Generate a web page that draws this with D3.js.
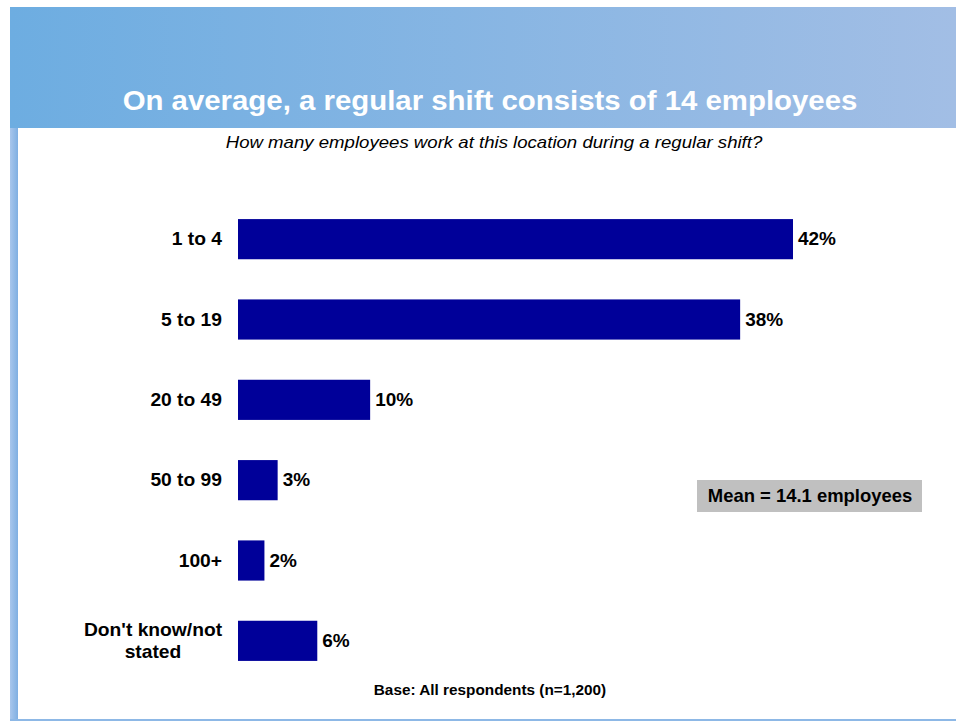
<!DOCTYPE html>
<html>
<head>
<meta charset="utf-8">
<script src="https://cdn.jsdelivr.net/npm/d3@7"></script>
<style>
  html, body { margin: 0; padding: 0; background: #fff; }
  svg { display: block; font-family: Arial, "Liberation Sans", sans-serif; }
</style>
</head>
<body>
<svg id="chart" width="956" height="721"></svg>
<script>
// Shift size distribution
const categories = ["1 to 4", "5 to 19", "20 to 49", "50 to 99", "100+", "Don't know/not stated"];
const values = [42, 38, 10, 3, 2, 6];
const titleText = "On average, a regular shift consists of 14 employees";
const subtitleText = "How many employees work at this location during a regular shift?";
const meanText = "Mean = 14.1 employees";
const baseText = "Base: All respondents (n=1,200)";

const svg = d3.select("#chart");
const defs = svg.append("defs");

const bannerGrad = defs.append("linearGradient").attr("id", "banner").attr("x1", 0).attr("x2", 1);
bannerGrad.append("stop").attr("offset", 0).attr("stop-color", "#6DADE1");
bannerGrad.append("stop").attr("offset", 1).attr("stop-color", "#A2BEE5");

const sideGrad = defs.append("linearGradient").attr("id", "side").attr("x1", 0).attr("x2", 1);
sideGrad.append("stop").attr("offset", 0).attr("stop-color", "#A8C6EC");
sideGrad.append("stop").attr("offset", 1).attr("stop-color", "#7FAFE2");

// Text drawn slightly widened horizontally around its anchor point
function wideText(parent, x, y, str, opts) {
  const g = parent.append("g").attr("transform", `translate(${x},${y}) scale(${opts.sx || 1},1)`);
  return g.append("text")
    .attr("x", 0).attr("y", 0)
    .attr("text-anchor", opts.anchor || "middle")
    .attr("font-size", opts.size)
    .attr("font-weight", opts.weight || "bold")
    .attr("font-style", opts.style || "normal")
    .attr("fill", opts.fill || "#000")
    .text(str);
}

// Frame: banner, left stripe, bottom rule
svg.append("rect").attr("x", 10).attr("y", 7).attr("width", 946).attr("height", 121).attr("fill", "url(#banner)");
svg.append("rect").attr("x", 10).attr("y", 128).attr("width", 8).attr("height", 592).attr("fill", "url(#side)");
svg.append("rect").attr("x", 10).attr("y", 719).attr("width", 946).attr("height", 2).attr("fill", "#8DB8E6");

wideText(svg, 490, 110, titleText, { size: 28, sx: 1.05, fill: "#fff" });
wideText(svg, 494, 148, subtitleText, { size: 17, sx: 1.095, weight: "normal", style: "italic" });

// Scales
const x = d3.scaleLinear().domain([0, 42]).range([238, 793]);
const y = d3.scaleBand().domain(categories).range([199, 681]).paddingInner(0.5).paddingOuter(0.25);

const g = svg.append("g");
g.selectAll("rect.bar").data(values).join("rect")
  .attr("class", "bar")
  .attr("x", x(0))
  .attr("y", (d, i) => y(categories[i]))
  .attr("width", d => x(d) - x(0))
  .attr("height", y.bandwidth())
  .attr("fill", "#000099");

values.forEach((d, i) => {
  wideText(g, x(d) + 5, y(categories[i]) + y.bandwidth() / 2 + 6, d + "%",
    { size: 17.5, sx: 1.085, anchor: "start" });
});

// Category labels (long one wraps onto two lines)
const labelLines = c => c === "Don't know/not stated" ? ["Don't know/not", "stated"] : [c];
categories.forEach(c => {
  const lines = labelLines(c);
  const cy = y(c) + y.bandwidth() / 2;
  if (lines.length === 1) {
    wideText(g, 222, cy + 6, lines[0], { size: 17.5, sx: 1.1, anchor: "end" });
  } else {
    lines.forEach((l, i) => {
      wideText(g, 153, cy + 6 + (i - 0.5) * 22, l, { size: 17.5, sx: 1.1 });
    });
  }
});

// Mean callout
svg.append("rect").attr("x", 697).attr("y", 480).attr("width", 225).attr("height", 32).attr("fill", "#C0C0C0");
wideText(svg, 810, 502, meanText, { size: 17.5, sx: 1.054 });

wideText(svg, 490, 695, baseText, { size: 14, sx: 1.096 });
</script>
</body>
</html>
